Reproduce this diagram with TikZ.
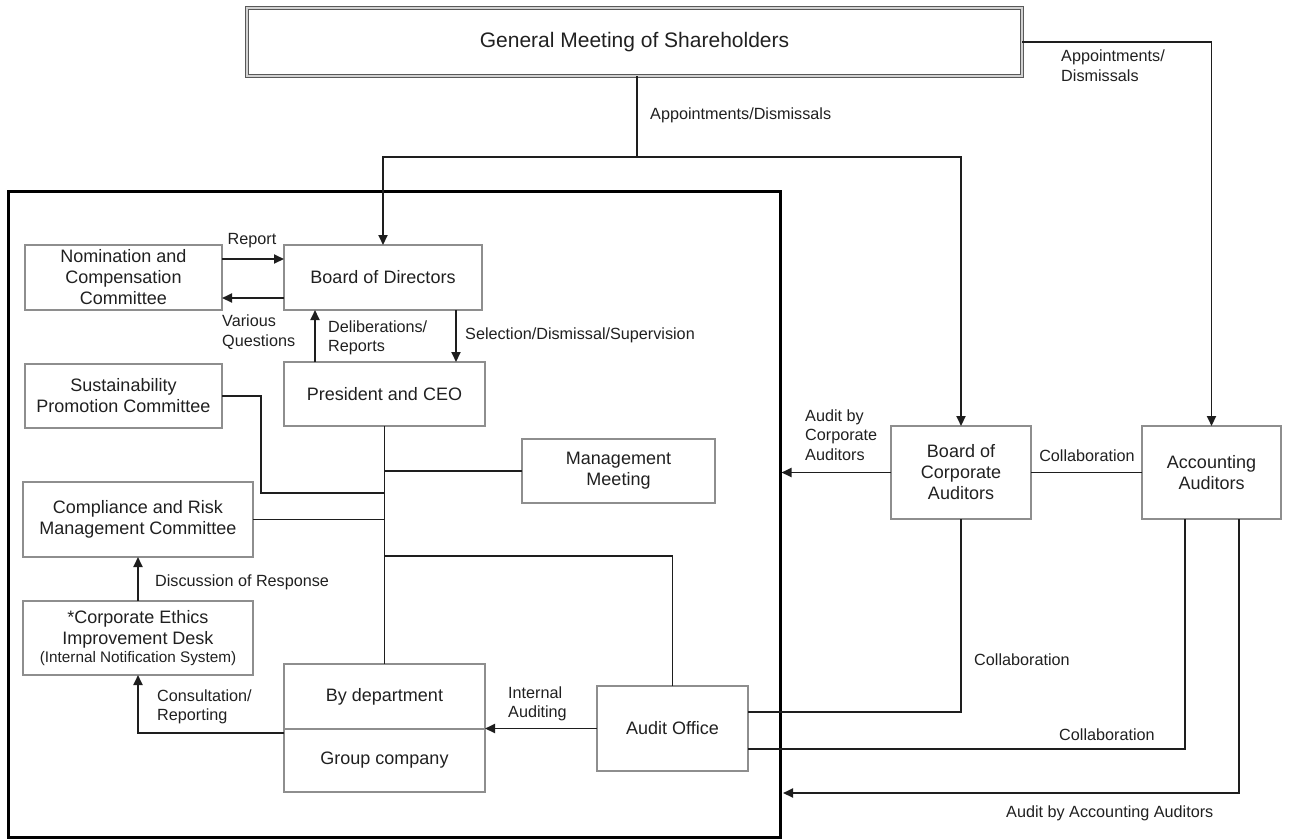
\documentclass[tikz,border=0pt]{standalone}
\usepackage{fontspec}
\setmainfont{Liberation Sans}
\usetikzlibrary{arrows.meta,calc}
\definecolor{boxgray}{HTML}{8E8E8E}
\definecolor{linec}{HTML}{1E1E1E}
\definecolor{txt}{HTML}{202020}
\begin{document}
\begin{tikzpicture}[x=1pt,y=-1pt,
 box/.style={draw=boxgray, line width=1.3pt, inner sep=2pt, outer sep=0pt, align=center,
   font=\fontsize{18}{21}\selectfont, text=txt},
 lbl/.style={font=\fontsize{16.2}{19.5}\selectfont, align=left, inner sep=0pt, text=txt},
 conn/.style={draw=linec, line width=1.9pt},
 arr/.style={conn, -{Triangle[length=10pt,width=9pt]}},
]
\useasboundingbox (0,0) rectangle (1289,839);

% frame of the company
\node[draw=black, line width=3pt, minimum width=772, minimum height=646, inner sep=0pt] (org) at (394,514) {};

% nodes
\node[box, draw=gray!70!black, double=gray!35, double distance=1.2pt, line width=1.2pt,
  minimum width=775, minimum height=68, font=\fontsize{21}{24}\selectfont] (gm) at (634.5,42) {General Meeting of Shareholders};
\node[box, minimum width=197, minimum height=65] (nom) at (123.5,277.5) {Nomination and\\Compensation\\Committee};
\node[box, minimum width=198, minimum height=65] (bod) at (383,277.5) {Board of Directors};
\node[box, minimum width=201, minimum height=64] (pres) at (384.5,394) {President and CEO};
\node[box, minimum width=197, minimum height=64] (sus) at (123.5,396) {Sustainability\\Promotion Committee};
\node[box, minimum width=193, minimum height=64] (mm) at (618.5,471) {Management\\Meeting};
\node[box, minimum width=230, minimum height=75] (comp) at (138,519.5) {Compliance and Risk\\Management Committee};
\node[box, minimum width=230, minimum height=74] (eth) at (138,638) {*Corporate Ethics\\Improvement Desk\\[-3pt]{\fontsize{15.3}{17}\selectfont(Internal Notification System)}};
\node[box, minimum width=201, minimum height=65] (dept) at (384.5,696.5) {By department};
\node[box, minimum width=201, minimum height=63] (grp) at (384.5,760.5) {Group company};
\node[box, minimum width=151, minimum height=85] (ao) at (672.5,728.5) {Audit Office};
\node[box, minimum width=140, minimum height=93] (bca) at (961,472.5) {Board of\\Corporate\\Auditors};
\node[box, minimum width=139, minimum height=93] (aa) at (1211.5,472.5) {Accounting\\Auditors};

% coordinates for junctions
\coordinate (j1) at (637,157);
\coordinate (s1) at (261,493);
\coordinate (s2) at (384.5,493);
\coordinate (a1) at (384.5,556);
\coordinate (c1) at (961,712);
\coordinate (c2) at (1185,749);
\coordinate (c3) at (1239,793);

% connectors
\draw[conn] (gm.south -| j1) -- (j1);
\draw[arr] (j1) -| (bod.north);
\draw[arr] (j1) -| (bca.north);
\draw[arr] (gm.east) -| (aa.north);
\draw[arr] ([yshift=18.5pt]nom.east) -- ([yshift=18.5pt]bod.west);
\draw[arr] ([yshift=-20.5pt]bod.west) -- ([yshift=-20.5pt]nom.east);
\draw[arr] ([xshift=-69.5pt]pres.north) -- ([xshift=-68pt]bod.south);
\draw[arr] ([xshift=73pt]bod.south) -- ([xshift=71.5pt]pres.north);
\draw[conn] (pres.south) -- (dept.north);
\draw[conn] (sus.east) -| (s1) -- (s2);
\draw[conn] (mm.west) -- (mm.west -| pres.south);
\draw[conn] (comp.east) -- (comp.east -| pres.south);
\draw[conn] (a1) -| (ao.north);
\draw[arr] (ao.west) -- (ao.west -| dept.east);
\draw[arr] ([yshift=-4pt]dept.south west) -| (eth.south);
\draw[arr] (eth.north) -- (comp.south);
\draw[arr] (bca.west) -- (bca.west -| org.east);
\draw[conn] (bca.east) -- (aa.west);
\draw[conn] (bca.south) -- (c1) -- (c1 -| ao.east);
\draw[conn] ([xshift=-26.5pt]aa.south) -- (c2) -- (c2 -| ao.east);
\draw[arr, shorten >=1.5pt] ([xshift=27.5pt]aa.south) -- (c3) -- (c3 -| org.east);

% labels
\node[lbl, anchor=west] (l1) at (650,115) {Appointments/Dismissals};
\node[lbl, anchor=west] (l2) at (1061,65.5) {Appointments/\\Dismissals};
\node[lbl] (l3) at (252,241) {Report};
\node[lbl, anchor=west] (l4) at (222,332) {Various\\Questions};
\node[lbl, anchor=west] (l5) at (328,338) {Deliberations/\\Reports};
\node[lbl, anchor=west] (l6) at (465,335) {Selection/Dismissal/Supervision};
\node[lbl, anchor=west] (l7) at (155,582) {Discussion of Response};
\node[lbl, anchor=west] (l8) at (157,707) {Consultation/\\Reporting};
\node[lbl, anchor=west] (l9) at (508,704) {Internal\\Auditing};
\node[lbl, anchor=west] (l10) at (805,435) {Audit by\\Corporate\\Auditors};
\node[lbl] (l11) at (1087,456) {Collaboration};
\node[lbl, anchor=west] (l12) at (974,660) {Collaboration};
\node[lbl, anchor=west] (l13) at (1059,735) {Collaboration};
\node[lbl, anchor=west] (l14) at (1006,813) {Audit by Accounting Auditors};
\end{tikzpicture}
\end{document}
